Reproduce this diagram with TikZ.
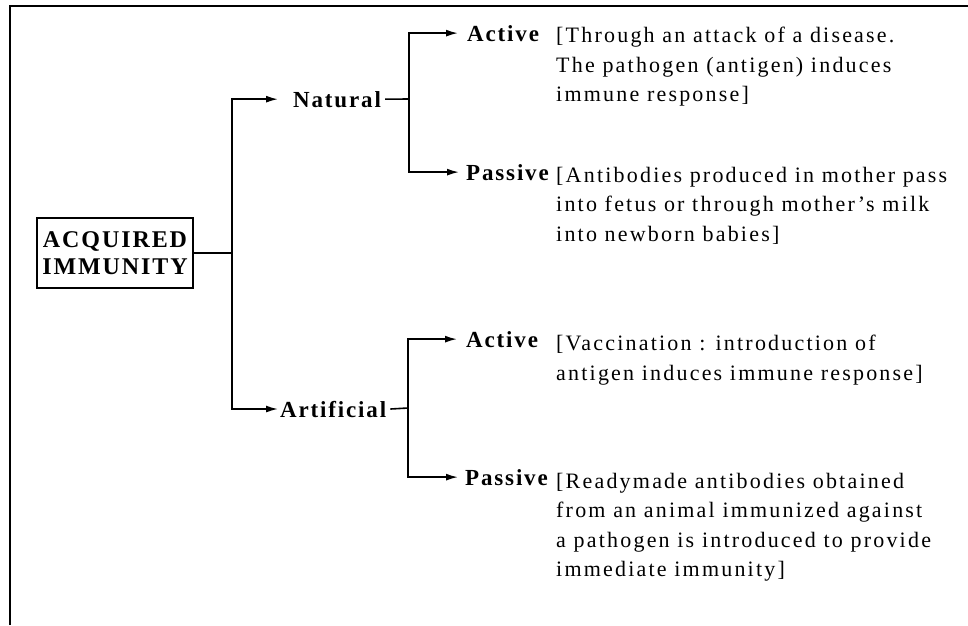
\documentclass[tikz,border=0pt]{standalone}
\usepackage{fontspec}
\setmainfont{Liberation Serif}[LetterSpace=8]
\newfontfamily\descfont{Liberation Serif}[LetterSpace=10, Ligatures=TeX]
\usepackage{tikz}
\usetikzlibrary{arrows.meta, positioning}

\begin{document}
\begin{tikzpicture}[
    x=1pt, y=-1pt,
    % Define standard styles for the diagram components
    rootbox/.style={
        rectangle,
        draw=black,
        line width=1.6pt,
        minimum width=156pt,
        minimum height=70pt,
        inner sep=0pt,
        align=center,
        font=\fontsize{24}{27}\selectfont\bfseries
    },
    branch/.style={
        inner sep=0pt,
        anchor=base west,
        font=\fontsize{23}{29}\selectfont\bfseries
    },
    desc/.style={
        inner sep=0pt,
        anchor=north west,
        align=left,
        font=\descfont\fontsize{22}{29.5}\selectfont
    },
    link/.style={
        line width=1.6pt,
        draw=black
    },
    arrow/.style={
        -{Latex[length=12pt, width=7pt]},
        line width=1.6pt,
        draw=black
    }
]
\useasboundingbox (0,0) rectangle (968,625);

% Frame of the scan
\draw[line width=2pt] (10,625) -- (10,6) -- (968,6);

% --- Nodes ---

% Root
\node[rootbox] (root) at (115,253) {ACQUIRED\\IMMUNITY};

% First level
\node[branch] (natural) at (293,107) {Natural};
\node[branch] (artificial) at (280,417) {Artificial};

% Second level
\node[branch] (natact) at (467,41) {Active};
\node[branch] (natpas) at (466,180) {Passive};
\node[branch] (artact) at (466,347) {Active};
\node[branch] (artpas) at (465,485) {Passive};

% Descriptions (one column, first line on the label's baseline)
\coordinate (desccol) at (556,0);
\node[desc] (natactdesc) at ([yshift=14pt]natact.base -| desccol)
    {[Through an attack of a disease.\\The pathogen (antigen) induces\\immune response]};
\node[desc] (natpasdesc) at ([yshift=13pt]natpas.base -| desccol)
    {[Antibodies produced in mother pass\\into fetus or through mother's milk\\into newborn babies]};
\node[desc] (artactdesc) at ([yshift=12pt]artact.base -| desccol)
    {[Vaccination : introduction of\\antigen induces immune response]};
\node[desc] (artpasdesc) at ([yshift=12pt]artpas.base -| desccol)
    {[Readymade antibodies obtained\\from an animal immunized against\\a pathogen is introduced to provide\\immediate immunity]};

% Forks
\coordinate (trunk) at (232,253);
\coordinate (natfork) at (409,99);
\coordinate (artfork) at (408,408);

% --- Connections ---
\draw[link] (root.east) -- (trunk);
\draw[arrow] (trunk) |- ([xshift=-15pt]natural.west);
\draw[arrow] (trunk) |- ([xshift=-2pt]artificial.west);

\draw[link] ([xshift=4pt]natural.east) -- (natfork);
\draw[arrow] (natfork) |- ([xshift=-9pt]natact.west);
\draw[arrow] (natfork) |- ([xshift=-7pt]natpas.west);

\draw[link] ([xshift=4pt]artificial.east) -- (artfork);
\draw[arrow] (artfork) |- ([xshift=-9pt]artact.west);
\draw[arrow] (artfork) |- ([xshift=-7pt]artpas.west);

\end{tikzpicture}
\end{document}
